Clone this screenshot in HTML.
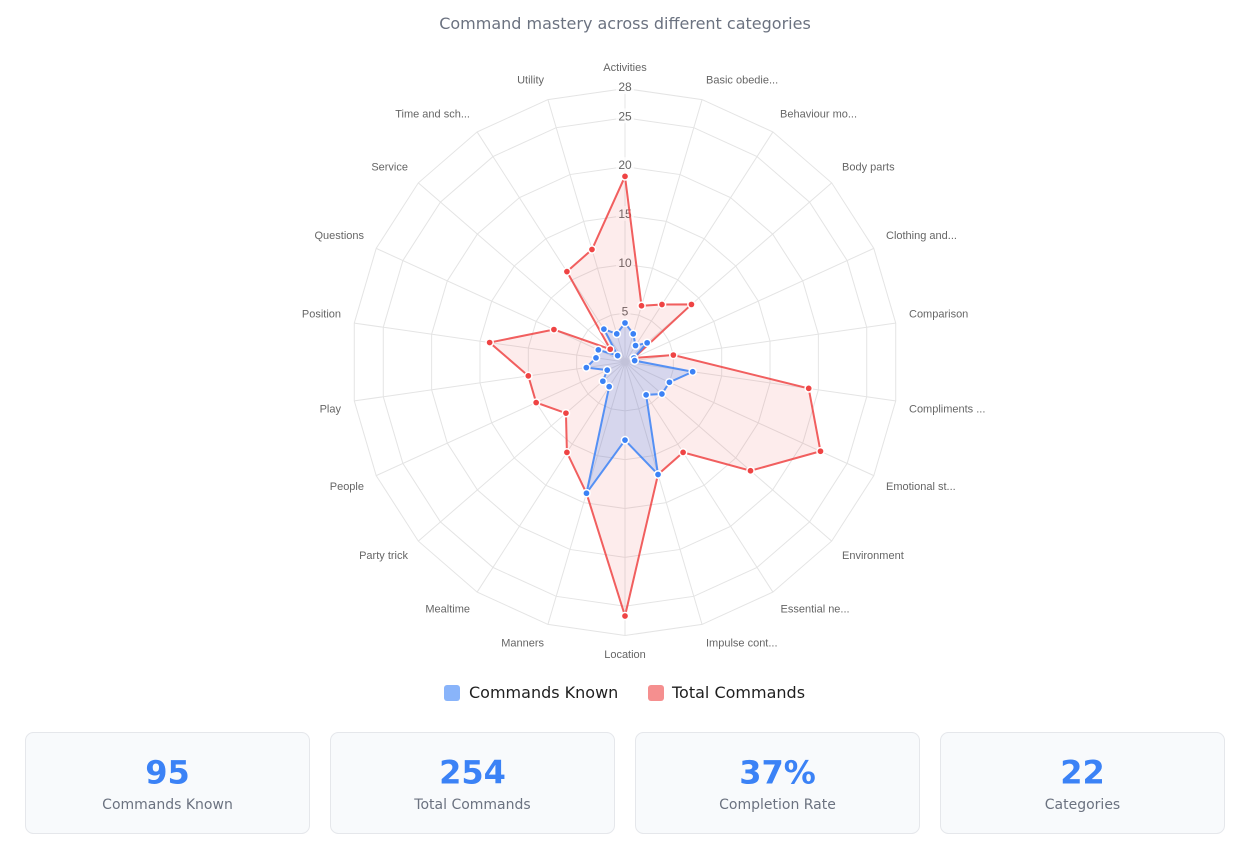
<!DOCTYPE html>
<html>
<head>
<meta charset="utf-8">
<style>
  html, body { margin:0; padding:0; background:#ffffff; }
  svg { display:block; }
  .pl { font-family:"Liberation Sans", Arial, sans-serif; font-size:11px; fill:#666666; }
  .tk { font-family:"Liberation Sans", Arial, sans-serif; font-size:12px; fill:#666666; }
  .dv { font-family:"DejaVu Sans", sans-serif; }
</style>
</head>
<body>
<svg width="1255" height="851" viewBox="0 0 1255 851" xmlns="http://www.w3.org/2000/svg">
  <defs>
    <polygon id="ring" points="0,-100 28.173,-95.949 54.064,-84.125 75.575,-65.486 90.963,-41.542 98.982,-14.231 98.982,14.231 90.963,41.542 75.575,65.486 54.064,84.125 28.173,95.949 0,100 -28.173,95.949 -54.064,84.125 -75.575,65.486 -90.963,41.542 -98.982,14.231 -98.982,-14.231 -90.963,-41.542 -75.575,-65.486 -54.064,-84.125 -28.173,-95.949" fill="none" stroke="#e4e4e4" stroke-width="1" vector-effect="non-scaling-stroke"/>
  </defs>

  <!-- Title -->
  <text class="dv" x="625" y="29" text-anchor="middle" font-size="16" fill="#6b7280">Command mastery across different categories</text>

  <!-- Grid rings -->
  <g transform="translate(625,362)">
    <use href="#ring" transform="scale(0.4884)"/>
    <use href="#ring" transform="scale(0.9768)"/>
    <use href="#ring" transform="scale(1.4652)"/>
    <use href="#ring" transform="scale(1.9536)"/>
    <use href="#ring" transform="scale(2.442)"/>
    <use href="#ring" transform="scale(2.735)"/>
    <!-- spokes -->
    <path transform="scale(2.735)" vector-effect="non-scaling-stroke" stroke="#e4e4e4" stroke-width="1" fill="none"
      d="M0 0L0 -100M0 0L28.173 -95.949M0 0L54.064 -84.125M0 0L75.575 -65.486M0 0L90.963 -41.542M0 0L98.982 -14.231M0 0L98.982 14.231M0 0L90.963 41.542M0 0L75.575 65.486M0 0L54.064 84.125M0 0L28.173 95.949M0 0L0 100M0 0L-28.173 95.949M0 0L-54.064 84.125M0 0L-75.575 65.486M0 0L-90.963 41.542M0 0L-98.982 14.231M0 0L-98.982 -14.231M0 0L-90.963 -41.542M0 0L-75.575 -65.486M0 0L-54.064 -84.125M0 0L-28.173 -95.949"/>
  </g>

  <!-- Tick labels with backdrops -->
  <g>
    <rect x="619.5" y="303.5" width="11" height="15" fill="#ffffff" fill-opacity="0.75"/>
    <text class="tk" x="625" y="315.5" text-anchor="middle">5</text>
    <rect x="616" y="254.8" width="18" height="15" fill="#ffffff" fill-opacity="0.75"/>
    <text class="tk" x="625" y="266.8" text-anchor="middle">10</text>
    <rect x="616" y="206" width="18" height="15" fill="#ffffff" fill-opacity="0.75"/>
    <text class="tk" x="625" y="218" text-anchor="middle">15</text>
    <rect x="616" y="157.1" width="18" height="15" fill="#ffffff" fill-opacity="0.75"/>
    <text class="tk" x="625" y="169.1" text-anchor="middle">20</text>
    <rect x="616" y="108.3" width="18" height="15" fill="#ffffff" fill-opacity="0.75"/>
    <text class="tk" x="625" y="120.3" text-anchor="middle">25</text>
    <rect x="616" y="79" width="18" height="15" fill="#ffffff" fill-opacity="0.75"/>
    <text class="tk" x="625" y="91" text-anchor="middle">28</text>
  </g>

  <!-- Point labels -->
  <g class="pl">
    <text x="625" y="71" text-anchor="middle">Activities</text>
    <text x="706" y="83.3">Basic obedie...</text>
    <text x="780" y="117.3">Behaviour mo...</text>
    <text x="842" y="170.7">Body parts</text>
    <text x="886" y="239">Clothing and...</text>
    <text x="909" y="317.3">Comparison</text>
    <text x="909" y="412.3">Compliments ...</text>
    <text x="886" y="490">Emotional st...</text>
    <text x="842" y="559">Environment</text>
    <text x="780.5" y="612.3">Essential ne...</text>
    <text x="706" y="646.3">Impulse cont...</text>
    <text x="625" y="658" text-anchor="middle">Location</text>
    <text x="544" y="646.3" text-anchor="end">Manners</text>
    <text x="470" y="612.3" text-anchor="end">Mealtime</text>
    <text x="408" y="559" text-anchor="end">Party trick</text>
    <text x="364" y="490" text-anchor="end">People</text>
    <text x="341" y="412.3" text-anchor="end">Play</text>
    <text x="341" y="317.3" text-anchor="end">Position</text>
    <text x="364" y="239" text-anchor="end">Questions</text>
    <text x="408" y="170.7" text-anchor="end">Service</text>
    <text x="470" y="117.3" text-anchor="end">Time and sch...</text>
    <text x="544" y="83.3" text-anchor="end">Utility</text>
  </g>

  <!-- Total Commands (red) -->
  <polygon points="625,176.41 641.51,305.76 661.97,304.48 691.44,304.43 633.89,357.94 673.34,355.05 808.70,388.41 820.48,451.27 750.50,470.75 683.09,452.39 658.02,474.47 625,615.97 586.47,493.21 566.91,452.39 565.95,413.17 536.15,402.58 528.31,375.90 489.64,342.54 553.92,329.54 610.23,349.20 566.91,271.61 591.98,249.53"
    fill="rgba(239,68,68,0.1)" stroke="rgba(239,68,68,0.85)" stroke-width="2" stroke-linejoin="miter"/>

  <!-- Commands Known (blue) -->
  <polygon points="625,322.93 633.25,333.89 635.56,345.56 647.14,342.81 633.89,357.94 634.67,360.61 692.68,371.73 669.43,382.29 661.91,393.98 646.12,394.87 658.02,474.47 625,440.14 586.47,493.21 609.16,386.65 602.86,381.19 607.23,370.12 586.33,367.56 596.00,357.83 598.35,349.83 617.62,355.60 603.88,329.13 616.75,333.89"
    fill="rgba(59,130,246,0.2)" stroke="rgba(59,130,246,0.85)" stroke-width="2"/>

  <!-- Red points -->
  <g fill="#ef4444" stroke="#ffffff" stroke-width="1.5">
    <circle cx="625" cy="176.41" r="3.6"/>
    <circle cx="641.51" cy="305.76" r="3.6"/>
    <circle cx="661.97" cy="304.48" r="3.6"/>
    <circle cx="691.44" cy="304.43" r="3.6"/>
    <circle cx="633.89" cy="357.94" r="3.6"/>
    <circle cx="673.34" cy="355.05" r="3.6"/>
    <circle cx="808.70" cy="388.41" r="3.6"/>
    <circle cx="820.48" cy="451.27" r="3.6"/>
    <circle cx="750.50" cy="470.75" r="3.6"/>
    <circle cx="683.09" cy="452.39" r="3.6"/>
    <circle cx="658.02" cy="474.47" r="3.6"/>
    <circle cx="625" cy="615.97" r="3.6"/>
    <circle cx="586.47" cy="493.21" r="3.6"/>
    <circle cx="566.91" cy="452.39" r="3.6"/>
    <circle cx="565.95" cy="413.17" r="3.6"/>
    <circle cx="536.15" cy="402.58" r="3.6"/>
    <circle cx="528.31" cy="375.90" r="3.6"/>
    <circle cx="489.64" cy="342.54" r="3.6"/>
    <circle cx="553.92" cy="329.54" r="3.6"/>
    <circle cx="610.23" cy="349.20" r="3.6"/>
    <circle cx="566.91" cy="271.61" r="3.6"/>
    <circle cx="591.98" cy="249.53" r="3.6"/>
  </g>

  <!-- Blue points -->
  <g fill="#3b82f6" stroke="#ffffff" stroke-width="1.5">
    <circle cx="625" cy="322.93" r="3.6"/>
    <circle cx="633.25" cy="333.89" r="3.6"/>
    <circle cx="635.56" cy="345.56" r="3.6"/>
    <circle cx="647.14" cy="342.81" r="3.6"/>
    <circle cx="633.89" cy="357.94" r="3.6"/>
    <circle cx="634.67" cy="360.61" r="3.6"/>
    <circle cx="692.68" cy="371.73" r="3.6"/>
    <circle cx="669.43" cy="382.29" r="3.6"/>
    <circle cx="661.91" cy="393.98" r="3.6"/>
    <circle cx="646.12" cy="394.87" r="3.6"/>
    <circle cx="658.02" cy="474.47" r="3.6"/>
    <circle cx="625" cy="440.14" r="3.6"/>
    <circle cx="586.47" cy="493.21" r="3.6"/>
    <circle cx="609.16" cy="386.65" r="3.6"/>
    <circle cx="602.86" cy="381.19" r="3.6"/>
    <circle cx="607.23" cy="370.12" r="3.6"/>
    <circle cx="586.33" cy="367.56" r="3.6"/>
    <circle cx="596.00" cy="357.83" r="3.6"/>
    <circle cx="598.35" cy="349.83" r="3.6"/>
    <circle cx="617.62" cy="355.60" r="3.6"/>
    <circle cx="603.88" cy="329.13" r="3.6"/>
    <circle cx="616.75" cy="333.89" r="3.6"/>
  </g>

  <!-- Legend -->
  <rect x="444" y="685" width="16" height="16" rx="3" fill="rgba(59,130,246,0.6)"/>
  <text class="dv" x="469" y="698" font-size="16" fill="#1f1f1f">Commands Known</text>
  <rect x="648" y="685" width="16" height="16" rx="3" fill="rgba(239,68,68,0.6)"/>
  <text class="dv" x="672" y="698" font-size="16" fill="#1f1f1f">Total Commands</text>

  <!-- Stat cards -->
  <g>
    <rect x="25.5" y="732.5" width="284" height="101" rx="8" fill="#f8fafc" stroke="#e5e7eb"/>
    <rect x="330.5" y="732.5" width="284" height="101" rx="8" fill="#f8fafc" stroke="#e5e7eb"/>
    <rect x="635.5" y="732.5" width="284" height="101" rx="8" fill="#f8fafc" stroke="#e5e7eb"/>
    <rect x="940.5" y="732.5" width="284" height="101" rx="8" fill="#f8fafc" stroke="#e5e7eb"/>

    <text class="dv" x="167.5" y="783.5" text-anchor="middle" font-size="32" font-weight="bold" fill="#3b82f6">95</text>
    <text class="dv" x="167.5" y="809" text-anchor="middle" font-size="14" fill="#6b7280">Commands Known</text>

    <text class="dv" x="472.5" y="783.5" text-anchor="middle" font-size="32" font-weight="bold" fill="#3b82f6">254</text>
    <text class="dv" x="472.5" y="809" text-anchor="middle" font-size="14" fill="#6b7280">Total Commands</text>

    <text class="dv" x="777.5" y="783.5" text-anchor="middle" font-size="32" font-weight="bold" fill="#3b82f6">37%</text>
    <text class="dv" x="777.5" y="809" text-anchor="middle" font-size="14" fill="#6b7280">Completion Rate</text>

    <text class="dv" x="1082.5" y="783.5" text-anchor="middle" font-size="32" font-weight="bold" fill="#3b82f6">22</text>
    <text class="dv" x="1082.5" y="809" text-anchor="middle" font-size="14" fill="#6b7280">Categories</text>
  </g>
</svg>
</body>
</html>
